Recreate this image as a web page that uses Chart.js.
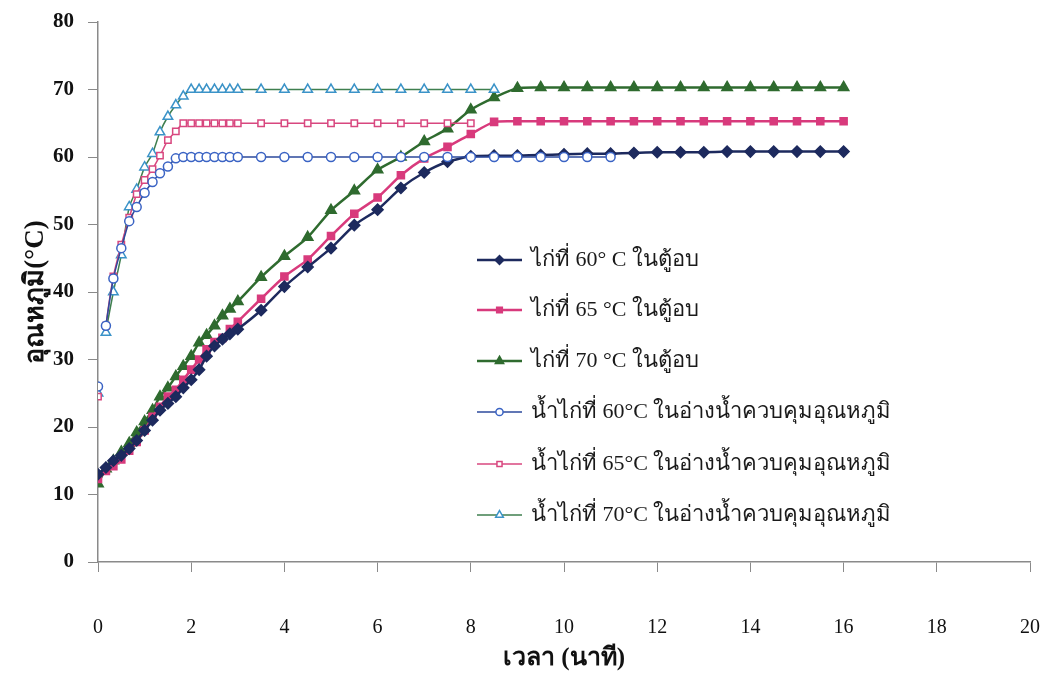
<!DOCTYPE html>
<html>
<head>
<meta charset="utf-8">
<script src="https://cdn.jsdelivr.net/npm/chart.js@4.4.1/dist/chart.umd.min.js"></script>
<style>
  html, body { margin: 0; padding: 0; background: #fff; }
  #wrap { width: 1044px; height: 674px; }
</style>
</head>
<body>
<div id="wrap"><canvas id="chart" width="1044" height="674"></canvas></div>
<script>
// time in minutes: every 10 s up to 3 min, then every 30 s
const minutes = [0, 0.17, 0.33, 0.5, 0.67, 0.83, 1, 1.17, 1.33, 1.5, 1.67, 1.83, 2, 2.17, 2.33, 2.5, 2.67, 2.83, 3,
    3.5, 4, 4.5, 5, 5.5, 6, 6.5, 7, 7.5, 8, 8.5, 9, 9.5, 10, 10.5, 11, 11.5, 12, 12.5, 13, 13.5, 14, 14.5, 15, 15.5, 16];

// chicken in oven
const oven60 = [13, 14, 15, 15.8, 16.8, 18, 19.5, 21, 22.5, 23.5, 24.5, 25.8, 27, 28.5, 30.5, 32, 33, 33.8, 34.5,
    37.3, 40.8, 43.7, 46.5, 49.9, 52.2, 55.4, 57.7, 59.3, 60.1, 60.2, 60.2, 60.3, 60.4, 60.5, 60.5, 60.6, 60.7, 60.7, 60.7, 60.8, 60.8, 60.8, 60.8, 60.8, 60.8];
const oven65 = [12.3, 13.5, 14.2, 15.2, 16.5, 17.8, 19.5, 21.5, 23, 24.5, 25.5, 27, 28.5, 30, 31.5, 32.6, 33.2, 34.5, 35.6,
    39, 42.3, 44.8, 48.3, 51.6, 54, 57.3, 59.8, 61.5, 63.4, 65.2, 65.3, 65.3, 65.3, 65.3, 65.3, 65.3, 65.3, 65.3, 65.3, 65.3, 65.3, 65.3, 65.3, 65.3, 65.3];
const oven70 = [11.6, 13.8, 15, 16.3, 17.6, 19.2, 20.8, 22.5, 24.5, 25.8, 27.5, 29, 30.5, 32.5, 33.6, 35, 36.5, 37.5, 38.6,
    42.2, 45.3, 48.1, 52.1, 55, 58.1, 60, 62.3, 64.2, 67, 68.8, 70.2, 70.3, 70.3, 70.3, 70.3, 70.3, 70.3, 70.3, 70.3, 70.3, 70.3, 70.3, 70.3, 70.3, 70.3];

// chicken juice in water bath
const bath60 = [26, 35, 42, 46.5, 50.5, 52.6, 54.7, 56.3, 57.6, 58.6, 59.8, 60, 60, 60, 60, 60, 60, 60, 60,
    60, 60, 60, 60, 60, 60, 60, 60, 60, 60, 60, 60, 60, 60, 60, 60];
const bath65 = [24.5, 35, 42.3, 47, 51, 54.5, 56.6, 58.2, 60.2, 62.5, 63.8, 65, 65, 65, 65, 65, 65, 65, 65,
    65, 65, 65, 65, 65, 65, 65, 65, 65, 65];
const bath70 = [25, 34, 40, 45.5, 52.6, 55.2, 58.5, 60.5, 63.7, 66, 67.7, 69, 70, 70, 70, 70, 70, 70, 70,
    70, 70, 70, 70, 70, 70, 70, 70, 70, 70, 70];

const seriesNames = [
    "ไก่ที่ 60° C ในตู้อบ",
    "ไก่ที่ 65 °C ในตู้อบ",
    "ไก่ที่ 70 °C ในตู้อบ",
    "น้ำไก่ที่ 60°C ในอ่างน้ำควบคุมอุณหภูมิ",
    "น้ำไก่ที่ 65°C ในอ่างน้ำควบคุมอุณหภูมิ",
    "น้ำไก่ที่ 70°C ในอ่างน้ำควบคุมอุณหภูมิ",
];

const xTicks = [0, 2, 4, 6, 8, 10, 12, 14, 16, 18, 20];
const yTicks = [0, 10, 20, 30, 40, 50, 60, 70, 80];

const FONT = "'Liberation Serif', 'Times New Roman', serif";

function pts(values) {
    return values.map((v, i) => ({ x: minutes[i], y: v }));
}

function series(label, values, line, marker, fill, style, radius, width, order) {
    return {
        label: label,
        data: pts(values),
        borderColor: line,
        borderWidth: width,
        pointStyle: style,
        pointRadius: radius,
        pointBorderColor: marker,
        pointBackgroundColor: fill,
        pointBorderWidth: 1.5,
        tension: 0.2,
        order: order,
    };
}

// bath readings at time 0 are not joined to the curve in the original
function skipFirst(ds) {
    ds.segment = { borderColor: (c) => (c.p0DataIndex === 0 ? "rgba(0,0,0,0)" : ds.borderColor) };
    return ds;
}

const datasets = [
    series(seriesNames[0], oven60, "#1d2a5e", "#1d2a5e", "#1d2a5e", "rectRot", 5.5, 2.5, 1),
    series(seriesNames[1], oven65, "#d83a7c", "#d83a7c", "#d83a7c", "rect", 5, 2.5, 1),
    series(seriesNames[2], oven70, "#2f6b2f", "#2f6b2f", "#2f6b2f", "triangle", 6, 2.5, 1),
    skipFirst(series(seriesNames[3], bath60, "#2d4a9c", "#3a63c4", "#ffffff", "circle", 4.5, 1.5, 0)),
    skipFirst(series(seriesNames[4], bath65, "#d8477f", "#d8477f", "#ffffff", "rect", 4.5, 1.5, 0)),
    skipFirst(series(seriesNames[5], bath70, "#3f7f4f", "#3b93c8", "#ffffff", "triangle", 5.5, 1.5, 0)),
];

// legend drawn inside the plot area, like the original
const innerLegend = {
    id: "innerLegend",
    afterDraw(chart) {
        const ctx = chart.ctx;
        const x0 = 477, x1 = 522, tx = 531;
        const rowY = [260, 310, 361, 412, 464, 515];
        ctx.save();
        chart.data.datasets.forEach((ds, i) => {
            const y = rowY[i];
            ctx.strokeStyle = ds.borderColor;
            ctx.lineWidth = ds.borderWidth;
            ctx.beginPath();
            ctx.moveTo(x0, y);
            ctx.lineTo(x1, y);
            ctx.stroke();
            ctx.strokeStyle = ds.pointBorderColor;
            ctx.fillStyle = ds.pointBackgroundColor;
            ctx.lineWidth = 1.5;
            Chart.helpers.drawPoint(ctx, { pointStyle: ds.pointStyle, radius: ds.pointRadius * 0.8, rotation: 0, borderWidth: 1.5 }, (x0 + x1) / 2, y);
            ctx.fillStyle = "#1a1a1a";
            ctx.font = "22px " + FONT;
            ctx.textBaseline = "middle";
            ctx.textAlign = "left";
            ctx.fillText(ds.label, tx, y);
        });
        ctx.restore();
    },
};

function noPad(s) {
    s.paddingLeft = 0;
    s.paddingRight = 0;
    s.paddingTop = 0;
    s.paddingBottom = 0;
}

new Chart(document.getElementById("chart"), {
    type: "line",
    data: { datasets: datasets },
    options: {
        responsive: false,
        animation: false,
        layout: { padding: { top: 22, right: 14, left: 0, bottom: 0 } },
        plugins: { legend: { display: false }, tooltip: { enabled: false } },
        scales: {
            x: {
                type: "linear",
                min: 0,
                max: 20,
                afterBuildTicks: (s) => { s.ticks = xTicks.map((v) => ({ value: v })); },
                afterFit: (s) => { s.height = 112; noPad(s); },
                grid: { drawOnChartArea: false, tickLength: 10, color: "#8a8a8a" },
                border: { color: "#8a8a8a", width: 1.5 },
                ticks: { padding: 44, color: "#111", font: { family: FONT, size: 20 } },
                title: {
                    display: true,
                    text: "เวลา (นาที)",
                    color: "#111",
                    padding: { top: 0, bottom: 0 },
                    font: { family: FONT, size: 25, weight: "bold" },
                },
            },
            y: {
                min: 0,
                max: 80,
                afterBuildTicks: (s) => { s.ticks = yTicks.map((v) => ({ value: v })); },
                afterFit: (s) => { s.width = 98; noPad(s); },
                grid: { drawOnChartArea: false, tickLength: 10, color: "#8a8a8a" },
                border: { color: "#8a8a8a", width: 1.5 },
                ticks: { padding: 14, color: "#111", font: { family: FONT, size: 21, weight: "bold" } },
                title: {
                    display: true,
                    text: "อุณหภูมิ(°C)",
                    color: "#111",
                    padding: { top: 20, bottom: 0 },
                    font: { family: FONT, size: 27, weight: "bold" },
                },
            },
        },
    },
    plugins: [innerLegend],
});
</script>
</body>
</html>
